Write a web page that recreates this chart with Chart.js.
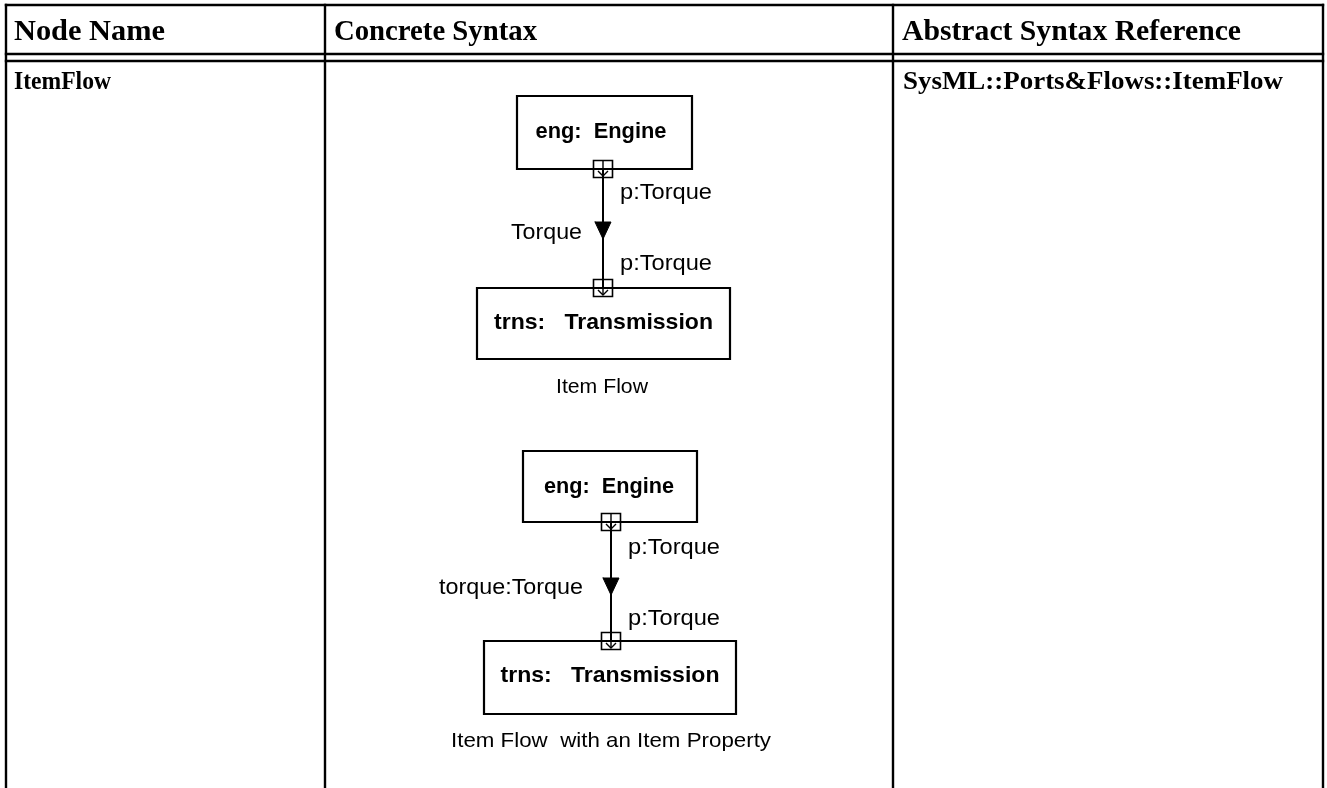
<!DOCTYPE html>
<html><head><meta charset="utf-8">
<script src="https://cdn.jsdelivr.net/npm/chart.js@4.4.1/dist/chart.umd.min.js"></script>
<style>html,body{margin:0;padding:0;background:#fff}#wrap{width:1327px;height:788px}</style>
</head><body><div id="wrap"><canvas id="c" width="1327" height="788"></canvas></div>
<script>
// ---- content ----
const headers = ['Node Name', 'Concrete Syntax', 'Abstract Syntax Reference'];
const nodeNames = ['ItemFlow'];
const abstractRefs = ['SysML::Ports&Flows::ItemFlow'];
const sourceParts = ['eng:  Engine', 'eng:  Engine'];
const targetParts = ['trns:   Transmission', 'trns:   Transmission'];
const sourcePorts = ['p:Torque', 'p:Torque'];
const targetPorts = ['p:Torque', 'p:Torque'];
const flowLabels = ['Torque', 'torque:Torque'];
const captions = ['Item Flow', 'Item Flow  with an Item Property'];

// ---- layout (pixel-valued linear axes) ----
const W = 1327, H = 788;
const colEdges = [6, 325, 893, 1323];
const rowEdges = [5, 54, 61];
const diagrams = [
  { cx: 603, src: [517, 96, 692, 169], dst: [477, 288, 730, 359], arrow: [222, 239],
    srcLblY: 132, srcPortY: 193, flowY: 233, dstPortY: 264, dstLblY: 323, capY: 387,
    portLblX: 620, flowRight: 582, srcW: 131, dstW: 219, flowW: 71, capW: 92, srcCx: 601, dstCx: 603.5, capCx: 602 },
  { cx: 611, src: [523, 451, 697, 522], dst: [484, 641, 736, 714], arrow: [578, 595],
    srcLblY: 487, srcPortY: 548, flowY: 588, dstPortY: 619, dstLblY: 676, capY: 741,
    portLblX: 628, flowRight: 583, srcW: 130, dstW: 219, flowW: 144, capW: 320, srcCx: 609, dstCx: 610, capCx: 611 }
];

const datasets = [];
function line(pts, width, extra) {
  datasets.push(Object.assign({
    type: 'scatter', showLine: true, data: pts.map(p => ({ x: p[0], y: p[1] })),
    borderColor: '#000', borderWidth: width, pointRadius: 0, fill: false,
    borderCapStyle: 'square', borderJoinStyle: 'miter', tension: 0
  }, extra || {}));
}
// table grid
rowEdges.forEach(y => line([[colEdges[0], y], [colEdges[3], y]], 2.4));
colEdges.forEach(x => line([[x, rowEdges[0]], [x, H + 5]], 2.4));

function rect(r, width) {
  line([[r[0], r[1]], [r[2], r[1]], [r[2], r[3]], [r[0], r[3]], [r[0], r[1]]], width);
}
diagrams.forEach(d => {
  rect(d.src, 2.2);
  rect(d.dst, 2.2);
  // connector
  line([[d.cx, d.src[3]], [d.cx, d.dst[1]]], 2, { borderCapStyle: 'butt' });
  // ports on borders
  [d.src[3], d.dst[1]].forEach(by => {
    rect([d.cx - 9.5, by - 8.5, d.cx + 9.5, by + 8.5], 1.6);
    line([[d.cx, by - 8.5], [d.cx, by + 7]], 1.4, { borderCapStyle: 'butt' });
    line([[d.cx - 5, by + 2], [d.cx, by + 7], [d.cx + 5, by + 2]], 1.4, { borderCapStyle: 'butt' });
  });
  // arrowhead
  line([[d.cx - 8, d.arrow[0]], [d.cx + 8, d.arrow[0]], [d.cx, d.arrow[1]], [d.cx - 8, d.arrow[0]]], 1,
       { fill: 'shape', backgroundColor: '#000' });
});

// ---- texts ----
const SERIF = '"Liberation Serif", "Times New Roman", serif';
const SANS = '"Liberation Sans", Arial, sans-serif';
const texts = [];
const hdrW = [151, 203, 339];
headers.forEach((h, i) => texts.push({ t: h, x: colEdges[i] + 8 + (i === 0 ? 0 : 1), y: 32, w: hdrW[i], font: 'bold 30px ' + SERIF, align: 'left' }));
texts.push({ t: nodeNames[0], x: 14, y: 83, w: 97, font: 'bold 25px ' + SERIF, align: 'left' });
texts.push({ t: abstractRefs[0], x: 903, y: 83, w: 380, font: 'bold 25px ' + SERIF, align: 'left' });
diagrams.forEach((d, i) => {
  texts.push({ t: sourceParts[i], x: d.srcCx, y: d.srcLblY, w: d.srcW, font: 'bold 22px ' + SANS, align: 'center' });
  texts.push({ t: targetParts[i], x: d.dstCx, y: d.dstLblY, w: d.dstW, font: 'bold 22px ' + SANS, align: 'center' });
  texts.push({ t: sourcePorts[i], x: d.portLblX, y: d.srcPortY, w: 92, font: '22px ' + SANS, align: 'left' });
  texts.push({ t: targetPorts[i], x: d.portLblX, y: d.dstPortY, w: 92, font: '22px ' + SANS, align: 'left' });
  texts.push({ t: flowLabels[i], x: d.flowRight, y: d.flowY, w: d.flowW, font: '22px ' + SANS, align: 'right' });
  texts.push({ t: captions[i], x: d.capCx, y: d.capY, w: d.capW, font: '21px ' + SANS, align: 'center' });
});

const textPlugin = {
  id: 'texts',
  afterDatasetsDraw(chart) {
    const ctx = chart.ctx, sx = chart.scales.x, sy = chart.scales.y;
    texts.forEach(o => {
      ctx.save();
      ctx.font = o.font;
      ctx.fillStyle = '#000';
      ctx.textBaseline = 'middle';
      ctx.textAlign = 'left';
      const m = ctx.measureText(o.t).width;
      const k = o.w ? o.w / m : 1;
      const px = sx.getPixelForValue(o.x), py = sy.getPixelForValue(o.y);
      ctx.translate(px, py);
      ctx.scale(k, 1);
      const ox = o.align === 'center' ? -m / 2 : (o.align === 'right' ? -m : 0);
      ctx.fillText(o.t, ox, 0);
      ctx.restore();
    });
  }
};

new Chart(document.getElementById('c'), {
  type: 'scatter',
  data: { datasets },
  options: {
    responsive: false, devicePixelRatio: 1, animation: false, events: [],
    layout: { padding: 0 },
    plugins: { legend: { display: false }, tooltip: { enabled: false }, title: { display: false } },
    scales: {
      x: { type: 'linear', min: 0, max: W, display: false },
      y: { type: 'linear', min: 0, max: H, reverse: true, display: false }
    },
    elements: { line: { tension: 0 } }
  },
  plugins: [textPlugin]
});
</script></body></html>
